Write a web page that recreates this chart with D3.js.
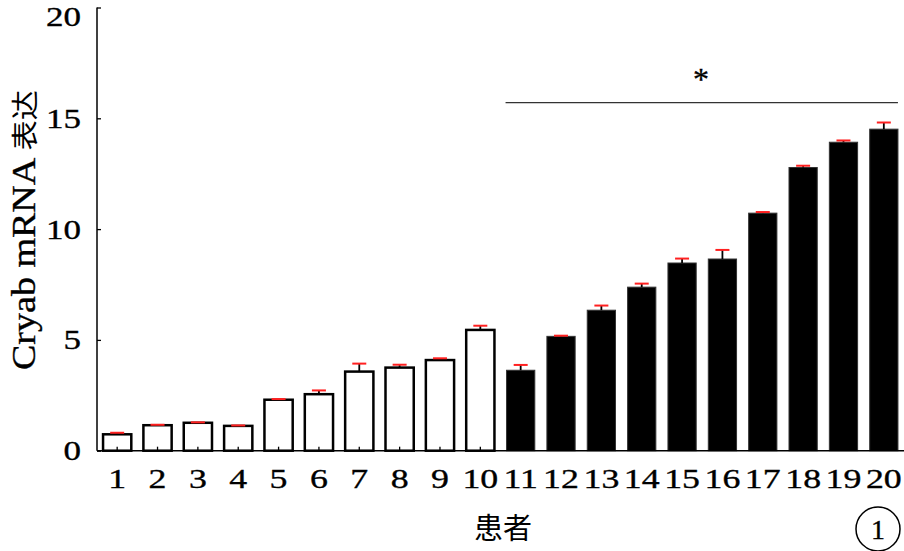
<!DOCTYPE html>
<html>
<head>
<meta charset="utf-8">
<script src="https://cdn.jsdelivr.net/npm/d3@7"></script>
<style>
  html, body { margin: 0; padding: 0; background: #fff; }
  svg { display: block; }
  text.w { stroke: #000; stroke-width: 0.35px; }
</style>
</head>
<body>
<svg id="chart" width="904" height="551"></svg>
<script>
// ---- data ----
const patients = ["1","2","3","4","5","6","7","8","9","10","11","12","13","14","15","16","17","18","19","20"];
const means = [0.74, 1.15, 1.26, 1.12, 2.30, 2.55, 3.57, 3.75, 4.09, 5.45,
               3.63, 5.16, 6.34, 7.38, 8.47, 8.65, 10.72, 12.78, 13.92, 14.51];
const errors = [0.07, 0.02, 0.02, 0.02, 0.03, 0.17, 0.36, 0.13, 0.08, 0.19,
                0.24, 0.03, 0.21, 0.16, 0.20, 0.41, 0.05, 0.08, 0.08, 0.30];
const groups = ["low","low","low","low","low","low","low","low","low","low",
                "high","high","high","high","high","high","high","high","high","high"];
const yTicks = [0, 5, 10, 15, 20];
const sigGroup = ["11", "20"];
const sigLabel = "*";
const yTitleLatin = "Cryab mRNA ";
const yTitleCJK = "表达";
const xTitle = "患者";
const panelLabel = "1";

const data = patients.map((p, i) => ({ p, m: means[i], e: errors[i], g: groups[i] }));

const svg = d3.select("#chart");
const serif = "'Liberation Serif', 'Times New Roman', serif";
const cjk = "'Noto Sans CJK SC', sans-serif";

const x = d3.scaleBand().domain(patients).range([97, 904]).paddingInner(0.3).paddingOuter(0.15);
const y = d3.scaleLinear().domain([0, 20]).range([450.7, 7.5]);

// bars
svg.append("g").selectAll("rect").data(data).join("rect")
  .attr("x", d => x(d.p))
  .attr("y", d => y(d.m))
  .attr("width", x.bandwidth())
  .attr("height", d => y(0) - y(d.m))
  .attr("fill", d => d.g === "low" ? "#fff" : "#000")
  .attr("stroke", d => d.g === "low" ? "#000" : "#333")
  .attr("stroke-width", d => d.g === "low" ? 2.5 : 1);

// error bars
const eb = svg.append("g");
eb.selectAll("line.v").data(data).join("line")
  .attr("class", "v")
  .attr("x1", d => x(d.p) + x.bandwidth() / 2)
  .attr("x2", d => x(d.p) + x.bandwidth() / 2)
  .attr("y1", d => y(d.m))
  .attr("y2", d => y(d.m + d.e))
  .attr("stroke", "#000").attr("stroke-width", 1.8);
eb.selectAll("line.c").data(data).join("line")
  .attr("class", "c")
  .attr("x1", d => x(d.p) + x.bandwidth() / 2 - 7)
  .attr("x2", d => x(d.p) + x.bandwidth() / 2 + 7)
  .attr("y1", d => y(d.m + d.e))
  .attr("y2", d => y(d.m + d.e))
  .attr("stroke", "#ff2020").attr("stroke-width", 2);

// axes
const yAxis = svg.append("g").attr("transform", "translate(97,0)")
  .call(d3.axisLeft(y).tickValues(yTicks).tickSize(-4).tickFormat(""));
yAxis.select(".domain").attr("d", `M0,${y(20)}V${y(0)}`).attr("stroke", "#000").attr("stroke-width", 1.5);
yAxis.selectAll(".tick line").attr("stroke", "#000").attr("stroke-width", 1.3);

const xAxis = svg.append("g").attr("transform", `translate(0,${y(0)})`)
  .call(d3.axisBottom(x).tickSize(-4).tickSizeOuter(0).tickFormat(""));
xAxis.select(".domain").attr("d", "M97,0H904").attr("stroke", "#000").attr("stroke-width", 1.5);
xAxis.selectAll(".tick line").attr("stroke", "#000").attr("stroke-width", 1.3);

// y tick labels
svg.append("g").selectAll("text").data(yTicks).join("text")
  .attr("class", "w")
  .attr("text-anchor", "end")
  .attr("font-family", serif).attr("font-size", 28)
  .attr("transform", d => `translate(81,${Math.max(y(d) + 9.5, 25.5)}) scale(1.25,1)`)
  .text(d => d);

// x tick labels
svg.append("g").selectAll("text").data(patients).join("text")
  .attr("class", "w")
  .attr("text-anchor", "middle")
  .attr("font-family", serif).attr("font-size", 28)
  .attr("transform", d => `translate(${x(d) + x.bandwidth() / 2},488) scale(1.28,1)`)
  .text(d => d);

// y title
const yt = svg.append("text")
  .attr("class", "w")
  .attr("transform", "translate(35,230) rotate(-90)")
  .attr("text-anchor", "middle")
  .attr("font-size", 34)
  .attr("textLength", 280)
  .attr("lengthAdjust", "spacingAndGlyphs");
yt.append("tspan").attr("font-family", serif).text(yTitleLatin);
yt.append("tspan").attr("font-family", cjk).attr("font-size", 27).attr("stroke-width", 0).text(yTitleCJK);

// x title
svg.append("text")
  .attr("x", 503).attr("y", 526)
  .attr("text-anchor", "middle").attr("dominant-baseline", "central")
  .attr("font-family", cjk).attr("font-size", 29)
  .text(xTitle);

// significance
const sx1 = x(sigGroup[0]) - 1;
const sx2 = x(sigGroup[1]) + x.bandwidth();
svg.append("line")
  .attr("x1", sx1).attr("x2", sx2).attr("y1", 102.7).attr("y2", 102.7)
  .attr("stroke", "#333").attr("stroke-width", 1.3);
svg.append("text")
  .attr("class", "w")
  .attr("x", 701).attr("y", 90)
  .attr("text-anchor", "middle")
  .attr("font-family", serif).attr("font-size", 32)
  .text(sigLabel);

// panel label
svg.append("circle").attr("cx", 878).attr("cy", 529).attr("r", 22)
  .attr("fill", "none").attr("stroke", "#000").attr("stroke-width", 1.5);
svg.append("text")
  .attr("class", "w")
  .attr("x", 878).attr("y", 529)
  .attr("text-anchor", "middle").attr("dominant-baseline", "central")
  .attr("font-family", serif).attr("font-size", 28)
  .text(panelLabel);
</script>
</body>
</html>
